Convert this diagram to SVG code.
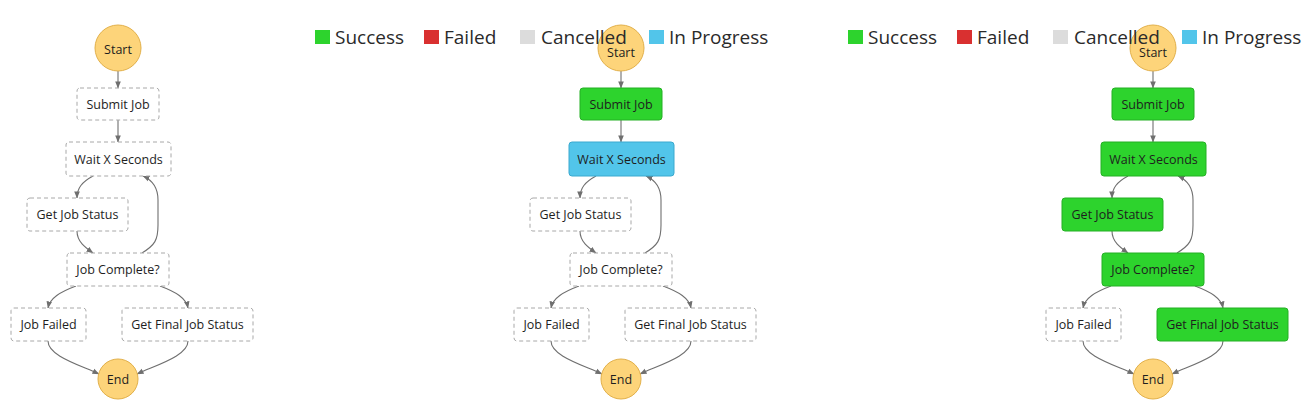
<svg xmlns="http://www.w3.org/2000/svg" width="1314" height="407" viewBox="0 0 1314 407">
<style>
.bg{fill:#ffffff}
.task{fill:#ffffff;stroke:#a8a8a8;stroke-width:1;stroke-dasharray:4 3}
.ok{fill:#2dd32d;stroke:#25b025;stroke-width:1}
.prog{fill:#52c5ea;stroke:#3aa9cf;stroke-width:1}
.term{fill:#fdd47a;stroke:#e2b04a;stroke-width:1}
.lbl{font-family:"Open Sans","Liberation Sans",sans-serif;font-size:12.5px;fill:#1e1e1e;text-anchor:middle}
.leg{font-family:"Open Sans","Liberation Sans",sans-serif;font-size:19px;fill:#2a2a2a}
.edge{fill:none;stroke:#6f6f6f;stroke-width:1.1;marker-end:url(#arr)}
</style>
<defs>
<marker id="arr" viewBox="0 0 8 8" refX="7.5" refY="4" markerWidth="7" markerHeight="7" markerUnits="userSpaceOnUse" orient="auto">
<path d="M0,0.8 L8,4 L0,7.2 Z" fill="#6f6f6f"/>
</marker>
</defs>
<rect class="bg" x="0" y="0" width="1314" height="407"/>

<!-- Panel 1 -->
<g id="panel1">
<g id="p1-edges">
<path class="edge" d="M118,71 L118,88"/>
<path class="edge" d="M118,120 L118,142"/>
<path class="edge" d="M93,176 C82,182 77,188 77,198"/>
<path class="edge" d="M77,231 C77,242 86,248 93,253"/>
<path class="edge" d="M142,253 C155,245 158,240 158,225 L158,200 C158,188 152,180 143,176"/>
<path class="edge" d="M76,286 C60,292 50,298 48,308"/>
<path class="edge" d="M160,286 C176,292 186,298 188,308"/>
<path class="edge" d="M48,341 C48,356 80,365 99,374"/>
<path class="edge" d="M188,341 C188,356 156,365 137,374"/>
</g>
<g id="p1-start"><circle class="term" cx="118" cy="48" r="23"/><text class="lbl" x="118" y="54">Start</text></g>
<g id="p1-submit"><rect class="task" x="77" y="88" width="82" height="32" rx="3"/><text class="lbl" x="118" y="108.5">Submit Job</text></g>
<g id="p1-wait"><rect class="task" x="66" y="142" width="105" height="34" rx="3"/><text class="lbl" x="118.5" y="163.5">Wait X Seconds</text></g>
<g id="p1-getstatus"><rect class="task" x="27" y="198" width="101" height="33" rx="3"/><text class="lbl" x="77.5" y="219">Get Job Status</text></g>
<g id="p1-complete"><rect class="task" x="67" y="253" width="102" height="33" rx="3"/><text class="lbl" x="118" y="274">Job Complete?</text></g>
<g id="p1-failed"><rect class="task" x="11" y="308" width="75" height="33" rx="3"/><text class="lbl" x="48.5" y="329">Job Failed</text></g>
<g id="p1-final"><rect class="task" x="122" y="308" width="131" height="33" rx="3"/><text class="lbl" x="187.5" y="329">Get Final Job Status</text></g>
<g id="p1-end"><circle class="term" cx="118" cy="379" r="20"/><text class="lbl" x="118" y="383.5">End</text></g>
</g>

<!-- Panel 2 -->
<g id="panel2" transform="translate(503,0)">
<g id="p2-edges">
<path class="edge" d="M118,71 L118,88"/>
<path class="edge" d="M118,120 L118,142"/>
<path class="edge" d="M93,176 C82,182 77,188 77,198"/>
<path class="edge" d="M77,231 C77,242 86,248 93,253"/>
<path class="edge" d="M142,253 C155,245 158,240 158,225 L158,200 C158,188 152,180 143,176"/>
<path class="edge" d="M76,286 C60,292 50,298 48,308"/>
<path class="edge" d="M160,286 C176,292 186,298 188,308"/>
<path class="edge" d="M48,341 C48,356 80,365 99,374"/>
<path class="edge" d="M188,341 C188,356 156,365 137,374"/>
</g>
<g id="p2-start"><circle class="term" cx="118" cy="48" r="23"/><text class="lbl" x="118" y="57">Start</text></g>
<g id="p2-submit"><rect class="ok" x="77" y="88" width="82" height="32" rx="3"/><text class="lbl" x="118" y="108.5">Submit Job</text></g>
<g id="p2-wait"><rect class="prog" x="66" y="142" width="105" height="34" rx="3"/><text class="lbl" x="118.5" y="163.5">Wait X Seconds</text></g>
<g id="p2-getstatus"><rect class="task" x="27" y="198" width="101" height="33" rx="3"/><text class="lbl" x="77.5" y="219">Get Job Status</text></g>
<g id="p2-complete"><rect class="task" x="67" y="253" width="102" height="33" rx="3"/><text class="lbl" x="118" y="274">Job Complete?</text></g>
<g id="p2-failed"><rect class="task" x="11" y="308" width="75" height="33" rx="3"/><text class="lbl" x="48.5" y="329">Job Failed</text></g>
<g id="p2-final"><rect class="task" x="122" y="308" width="131" height="33" rx="3"/><text class="lbl" x="187.5" y="329">Get Final Job Status</text></g>
<g id="p2-end"><circle class="term" cx="118" cy="379" r="20"/><text class="lbl" x="118" y="383.5">End</text></g>
</g>

<!-- Panel 3 -->
<g id="panel3" transform="translate(1035,0)">
<g id="p3-edges">
<path class="edge" d="M118,71 L118,88"/>
<path class="edge" d="M118,120 L118,142"/>
<path class="edge" d="M93,176 C82,182 77,188 77,198"/>
<path class="edge" d="M77,231 C77,242 86,248 93,253"/>
<path class="edge" d="M142,253 C155,245 158,240 158,225 L158,200 C158,188 152,180 143,176"/>
<path class="edge" d="M76,286 C60,292 50,298 48,308"/>
<path class="edge" d="M160,286 C176,292 186,298 188,308"/>
<path class="edge" d="M48,341 C48,356 80,365 99,374"/>
<path class="edge" d="M188,341 C188,356 156,365 137,374"/>
</g>
<g id="p3-start"><circle class="term" cx="118" cy="48" r="23"/><text class="lbl" x="118" y="57">Start</text></g>
<g id="p3-submit"><rect class="ok" x="77" y="88" width="82" height="32" rx="3"/><text class="lbl" x="118" y="108.5">Submit Job</text></g>
<g id="p3-wait"><rect class="ok" x="66" y="142" width="105" height="34" rx="3"/><text class="lbl" x="118.5" y="163.5">Wait X Seconds</text></g>
<g id="p3-getstatus"><rect class="ok" x="27" y="198" width="101" height="33" rx="3"/><text class="lbl" x="77.5" y="219">Get Job Status</text></g>
<g id="p3-complete"><rect class="ok" x="67" y="253" width="102" height="33" rx="3"/><text class="lbl" x="118" y="274">Job Complete?</text></g>
<g id="p3-failed"><rect class="task" x="11" y="308" width="75" height="33" rx="3"/><text class="lbl" x="48.5" y="329">Job Failed</text></g>
<g id="p3-final"><rect class="ok" x="122" y="308" width="131" height="33" rx="3"/><text class="lbl" x="187.5" y="329">Get Final Job Status</text></g>
<g id="p3-end"><circle class="term" cx="118" cy="379" r="20"/><text class="lbl" x="118" y="383.5">End</text></g>
</g>

<!-- Legends -->
<g id="legend1">
<rect x="315" y="30" width="15" height="14" fill="#2dd32d"/><text class="leg" x="335" y="43.5">Success</text>
<rect x="424" y="30" width="15" height="14" fill="#d93030"/><text class="leg" x="444" y="43.5">Failed</text>
<rect x="520" y="30" width="15" height="14" fill="#dcdcdc"/><text class="leg" x="541" y="43.5">Cancelled</text>
<rect x="649" y="30" width="15" height="14" fill="#52c5ea"/><text class="leg" x="669" y="43.5">In Progress</text>
</g>
<g id="legend2">
<rect x="848" y="30" width="15" height="14" fill="#2dd32d"/><text class="leg" x="868" y="43.5">Success</text>
<rect x="957" y="30" width="15" height="14" fill="#d93030"/><text class="leg" x="977" y="43.5">Failed</text>
<rect x="1053" y="30" width="15" height="14" fill="#dcdcdc"/><text class="leg" x="1074" y="43.5">Cancelled</text>
<rect x="1182" y="30" width="15" height="14" fill="#52c5ea"/><text class="leg" x="1202" y="43.5">In Progress</text>
</g>
</svg>
